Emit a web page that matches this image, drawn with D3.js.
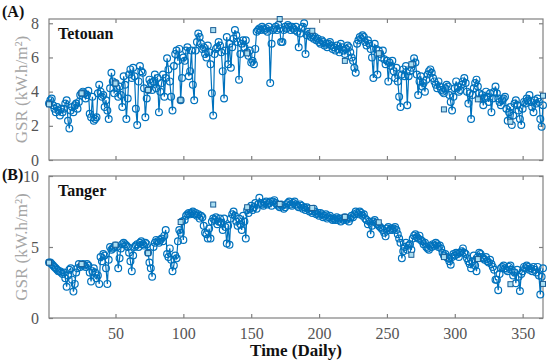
<!DOCTYPE html>
<html lang="en">
<head>
<meta charset="utf-8">
<title>GSR daily - Tetouan / Tanger</title>
<script src="https://d3js.org/d3.v7.min.js"></script>
<style>
  body { margin: 0; background: #fff; }
  svg { display: block; }
  svg text { font-family: "Liberation Serif", "Times New Roman", serif !important; }
</style>
</head>
<body>
<script>
// daily GSR (kW.h/m2), day 1..365
const tetouan = [
  3.3, 3.5, 3.6, 3.2, 3.0, 2.8, 3.1, 2.9, 2.6, 3.0,
  2.8, 3.0, 3.3, 3.5, 2.3, 1.85, 2.9, 3.1, 2.8, 3.2,
  3.3, 3.0, 3.4, 3.8, 3.9, 4.0, 3.9, 3.6, 3.8, 4.05,
  2.7, 2.5, 3.7, 2.3, 2.4, 2.5, 3.9, 4.4, 4.0, 3.7,
  3.8, 3.1, 3.5, 2.9, 2.4, 4.2, 5.1, 4.6, 3.9, 4.5,
  4.2, 3.7, 4.3, 3.8, 3.1, 4.9, 4.4, 2.4, 3.6, 5.0,
  5.3, 4.8, 5.4, 4.9, 3.0, 2.05, 4.6, 5.5, 5.2, 5.1,
  4.2, 2.5, 3.6, 4.1, 4.7, 4.5, 4.1, 4.6, 5.0, 4.2,
  4.8, 2.8, 4.0, 4.5, 5.0, 3.7, 4.8, 5.95, 5.3, 4.6,
  3.7, 2.9, 5.5, 6.2, 6.4, 5.8, 6.5, 3.5, 4.8, 6.0,
  5.8, 6.4, 6.6, 4.9, 5.2, 6.4, 4.4, 3.5, 6.4, 6.9,
  7.4, 7.2, 6.8, 6.5, 6.6, 6.2, 6.0, 6.7, 6.3, 5.6,
  3.9, 2.6, 6.2, 6.5, 6.6, 6.9, 6.7, 6.3, 5.2, 3.6,
  6.4, 7.2, 5.6, 6.8, 5.4, 6.6, 7.1, 7.6, 7.3, 6.9,
  4.7, 6.2, 6.8, 7.0, 6.6, 7.0, 6.3, 6.1, 6.4, 5.7,
  5.8, 5.6, 6.5, 7.5, 7.6, 7.7, 7.6, 7.8, 7.7, 7.6,
  7.7, 7.5, 7.8, 4.5, 6.8, 7.6, 7.7, 7.8, 7.6, 7.9,
  7.7, 6.9, 6.9, 7.6, 7.8, 7.7, 7.9, 7.8, 7.6, 7.8,
  7.7, 7.6, 7.8, 7.5, 6.6, 7.4, 7.7, 7.8, 8.0, 6.2,
  7.3, 7.5, 7.4, 7.2, 7.3, 7.1, 7.2, 7.0, 7.1, 6.9,
  6.8, 7.0, 6.9, 6.7, 6.8, 6.6, 6.8, 6.9, 6.7, 6.5,
  6.6, 6.4, 6.7, 6.5, 6.3, 6.8, 6.6, 6.4, 6.2, 6.5,
  6.7, 6.6, 6.3, 6.0, 5.8, 5.4, 5.1, 6.8, 7.0, 7.2,
  7.1, 7.3, 7.2, 6.9, 6.7, 7.0, 6.8, 6.5, 6.0, 4.8,
  6.8, 6.5, 5.0, 6.4, 6.2, 6.0, 6.4, 5.9, 5.6, 5.8,
  4.6, 5.7, 5.5, 5.8, 5.2, 4.8, 5.4, 4.6, 3.7, 3.1,
  5.0, 5.3, 4.9, 5.5, 3.2, 4.9, 5.2, 5.4, 5.6, 5.95,
  5.7, 5.0, 3.8, 4.6, 4.9, 4.3, 4.5, 4.0, 4.7, 5.0,
  5.2, 5.3, 5.1, 4.8, 4.6, 4.4, 4.2, 4.6, 4.3, 4.1,
  4.0, 3.9, 4.2, 4.4, 4.3, 3.8, 3.4, 2.9, 3.7, 4.2,
  4.6, 4.3, 4.0, 4.1, 4.4, 4.6, 4.8, 4.5, 4.0, 3.3,
  3.9, 2.4, 3.8, 4.2, 4.5, 4.7, 4.3, 3.9, 3.6, 3.8,
  3.2, 3.6, 4.0, 3.7, 3.4, 3.9, 2.8, 3.6, 4.0, 4.3,
  3.9, 3.6, 3.4, 3.2, 3.5, 3.6, 3.7, 3.0, 2.3, 2.8,
  3.1, 2.05, 2.6, 3.3, 3.5, 3.2, 2.9, 2.4, 2.05, 3.0,
  3.4, 3.3, 3.6, 3.5, 3.8, 3.4, 3.1, 2.8, 3.5, 3.3,
  3.6, 3.4, 2.4, 1.95, 3.2
];

const tanger = [
  3.9, 3.9, 3.8, 3.7, 3.6, 3.5, 3.4, 3.3, 3.3, 3.2,
  3.1, 3.2, 2.8, 2.2, 3.0, 3.4, 3.5, 2.7, 1.86, 2.4,
  3.2, 3.5, 3.8, 3.6, 3.7, 3.8, 3.7, 3.6, 3.8, 3.7,
  3.2, 2.57, 3.3, 3.5, 3.2, 2.8, 3.0, 2.4, 4.3, 4.0,
  4.5, 4.4, 3.5, 2.4, 4.1, 5.0, 4.8, 4.9, 5.0, 5.1,
  5.0, 3.5, 4.2, 4.9, 5.2, 5.3, 5.2, 5.1, 5.0, 4.6,
  4.0, 3.3, 4.4, 5.0, 5.1, 5.2, 5.0, 5.3, 5.4, 5.2,
  5.1, 5.3, 5.2, 4.6, 3.9, 3.5, 2.9, 5.0, 5.3, 5.5,
  5.4, 5.3, 5.5, 5.6, 5.4, 5.8, 6.2, 4.5, 4.3, 4.9,
  4.1, 3.3, 3.7, 4.4, 4.2, 5.4, 6.2, 6.0, 6.8, 5.5,
  6.9, 7.2, 7.3, 7.4, 7.3, 7.4, 7.5, 7.3, 7.4, 7.2,
  7.3, 7.0, 7.2, 7.1, 6.5, 6.0, 5.9, 5.6, 6.3, 5.6,
  6.8, 7.0, 6.9, 7.1, 6.6, 6.8, 7.0, 6.7, 6.2, 7.0,
  6.4, 5.25, 6.5, 5.16, 7.0, 7.3, 7.5, 7.2, 6.8, 6.5,
  7.0, 6.6, 6.2, 7.2, 6.8, 5.6, 7.6, 7.4, 7.7, 7.9,
  7.6, 7.8, 8.1, 7.7, 8.0, 8.46, 8.1, 8.0, 7.9, 8.1,
  8.2, 8.0, 8.1, 8.2, 7.9, 8.2, 8.3, 8.1, 8.0, 7.9,
  7.8, 8.0, 7.9, 7.7, 7.8, 8.0, 8.1, 8.2, 8.0, 7.9,
  8.1, 8.2, 8.0, 7.9, 7.8, 8.0, 7.9, 7.7, 7.8, 7.6,
  7.8, 7.7, 7.5, 7.6, 7.4, 7.7, 7.5, 7.3, 7.4, 7.2,
  7.4, 7.3, 7.1, 7.2, 7.3, 7.0, 7.1, 7.2, 7.0, 6.9,
  7.0, 6.9, 7.1, 6.9, 7.0, 6.8, 7.0, 6.9, 7.1, 6.9,
  7.0, 6.8, 7.0, 7.2, 7.1, 7.3, 7.5, 7.4, 7.3, 7.5,
  7.4, 7.2, 7.3, 7.0, 6.9, 6.6, 6.8, 5.9, 6.5, 6.8,
  6.9, 6.7, 6.6, 6.5, 6.4, 6.3, 6.2, 6.0, 5.75, 6.3,
  6.4, 6.2, 6.3, 6.2, 6.3, 6.4, 6.2, 5.9, 5.6, 5.3,
  4.2, 4.7, 5.0, 5.3, 4.8, 5.1, 5.2, 4.8, 5.6, 5.8,
  5.9, 5.7, 5.6, 5.8, 5.5, 5.4, 5.2, 5.3, 5.0, 4.9,
  4.8, 5.1, 5.0, 5.2, 5.1, 5.3, 5.2, 5.0, 5.1, 4.9,
  4.6, 4.4, 4.5, 4.3, 4.2, 4.0, 3.75, 4.3, 4.5, 4.4,
  4.6, 4.5, 4.3, 4.6, 4.7, 4.9, 4.6, 4.5, 4.2, 4.0,
  3.8, 3.5, 4.0, 4.4, 3.7, 3.3, 4.3, 4.6, 4.5, 4.3,
  4.2, 4.1, 4.3, 4.0, 3.9, 4.1, 3.8, 3.6, 3.4, 2.7,
  2.7, 1.96, 3.1, 3.5, 3.6, 3.7, 3.5, 3.4, 3.3, 3.6,
  3.7, 3.4, 3.0, 3.2, 2.45, 3.4, 2.9, 1.9, 3.1, 3.3,
  3.6, 3.5, 3.7, 3.6, 3.4, 3.5, 3.3, 3.6, 3.4, 3.2,
  3.6, 3.0, 1.65, 2.9, 3.5
];

// square markers (every ~24 days)
const markDays = [1, 25, 50, 74, 98, 122, 147, 171, 195, 219, 244, 268, 292, 317, 341, 365];
const tetouanMarks = [3.26, 3.9, 4.48, 4.1, 3.5, 7.6, 6.24, 8.25, 7.56, 5.8, 6.24, 5.6, 2.96, 3.55, 2.24, 3.76];
const tangerMarks = [3.9, 3.8, 5.16, 4.57, 6.76, 7.99, 7.8, 8.03, 7.75, 7.12, 6.74, 4.45, 4.29, 4.15, 2.38, 2.40];

const xTicks = [50, 100, 150, 200, 250, 300, 350];
const yTicksA = [0, 2, 4, 6, 8];
const yTicksB = [0, 5, 10];

const width = 550, height = 363;
const left = 49, right = 543;
const blue = "#0072BD";
const axisCol = "#808080";
const tickCol = "#555";

const svg = d3.select("body").append("svg")
    .attr("width", width)
    .attr("height", height);

const x = d3.scaleLinear().domain([1, 365]).range([left, right]);

function panel(opts) {
    const y = d3.scaleLinear().domain(opts.ydom).range([opts.bottom, opts.top]);
    const g = svg.append("g");
    const days = d3.range(1, opts.data.length + 1);

    // box
    g.append("rect")
        .attr("x", left).attr("y", opts.top)
        .attr("width", right - left).attr("height", opts.bottom - opts.top)
        .attr("fill", "none").attr("stroke", axisCol).attr("stroke-width", 1.2);

    // ticks (inward, on all four sides)
    const bottomAxis = d3.axisBottom(x).tickValues(xTicks).tickSizeInner(-4).tickSizeOuter(0)
        .tickPadding(10).tickFormat(opts.xlabels ? d3.format("d") : "");
    const topAxis = d3.axisTop(x).tickValues(xTicks).tickSizeInner(-4).tickSizeOuter(0).tickFormat("");
    const leftAxis = d3.axisLeft(y).tickValues(opts.yticks).tickSizeInner(-4).tickSizeOuter(0).tickPadding(10);
    const rightAxis = d3.axisRight(y).tickValues(opts.yticks).tickSizeInner(-4).tickSizeOuter(0).tickFormat("");

    const axes = [
        [bottomAxis, `translate(0,${opts.bottom})`],
        [topAxis, `translate(0,${opts.top})`],
        [leftAxis, `translate(${left},0)`],
        [rightAxis, `translate(${right},0)`]
    ];
    axes.forEach(([ax, tr]) => {
        const a = g.append("g").attr("transform", tr).call(ax);
        a.attr("font-size", 16);
        a.select(".domain").remove();
        a.selectAll("line").attr("stroke", axisCol).attr("stroke-width", 1.2);
        a.selectAll("text").attr("fill", tickCol);
    });

    // series line + open circles
    const line = d3.line().x((d, i) => x(days[i])).y(d => y(d));
    g.append("path")
        .datum(opts.data)
        .attr("d", line)
        .attr("fill", "none")
        .attr("stroke", blue)
        .attr("stroke-width", 1.2);

    g.append("g").selectAll("circle")
        .data(opts.data)
        .join("circle")
        .attr("cx", (d, i) => x(days[i]))
        .attr("cy", d => y(d))
        .attr("r", 3.4)
        .attr("fill", "none")
        .attr("stroke", blue)
        .attr("stroke-width", 1.2);

    // square markers
    const s = 5;
    g.append("g").selectAll("rect")
        .data(opts.marks)
        .join("rect")
        .attr("x", (d, i) => x(markDays[i]) - s / 2)
        .attr("y", d => y(d) - s / 2)
        .attr("width", s).attr("height", s)
        .attr("fill", "#a9def2")
        .attr("stroke", "#1b5e96")
        .attr("stroke-width", 1);

    // station name
    g.append("text")
        .attr("x", 58).attr("y", opts.top + 20)
        .attr("font-size", 16).attr("font-weight", "bold")
        .attr("fill", "#111")
        .text(opts.name);

    // panel letter
    g.append("text")
        .attr("x", 2).attr("y", opts.letterY)
        .attr("font-size", 16).attr("font-weight", "bold")
        .attr("fill", "#111")
        .text(opts.letter);

    // y label
    g.append("text")
        .attr("transform", `translate(27,${(opts.top + opts.bottom) / 2}) rotate(-90)`)
        .attr("text-anchor", "middle")
        .attr("font-size", 17)
        .attr("fill", "#a6a6a6")
        .text("GSR (kW.h/m²)");
}

panel({
    data: tetouan, marks: tetouanMarks, name: "Tetouan", letter: "(A)", letterY: 17,
    top: 19, bottom: 160, ydom: [0, 8.25], yticks: yTicksA, xlabels: false
});

panel({
    data: tanger, marks: tangerMarks, name: "Tanger", letter: "(B)", letterY: 180,
    top: 176, bottom: 318, ydom: [0, 10], yticks: yTicksB, xlabels: true
});

svg.append("text")
    .attr("x", (left + right) / 2)
    .attr("y", 356)
    .attr("text-anchor", "middle")
    .attr("font-size", 17)
    .attr("font-weight", "bold")
    .attr("fill", "#111")
    .text("Time (Daily)");
</script>
</body>
</html>
